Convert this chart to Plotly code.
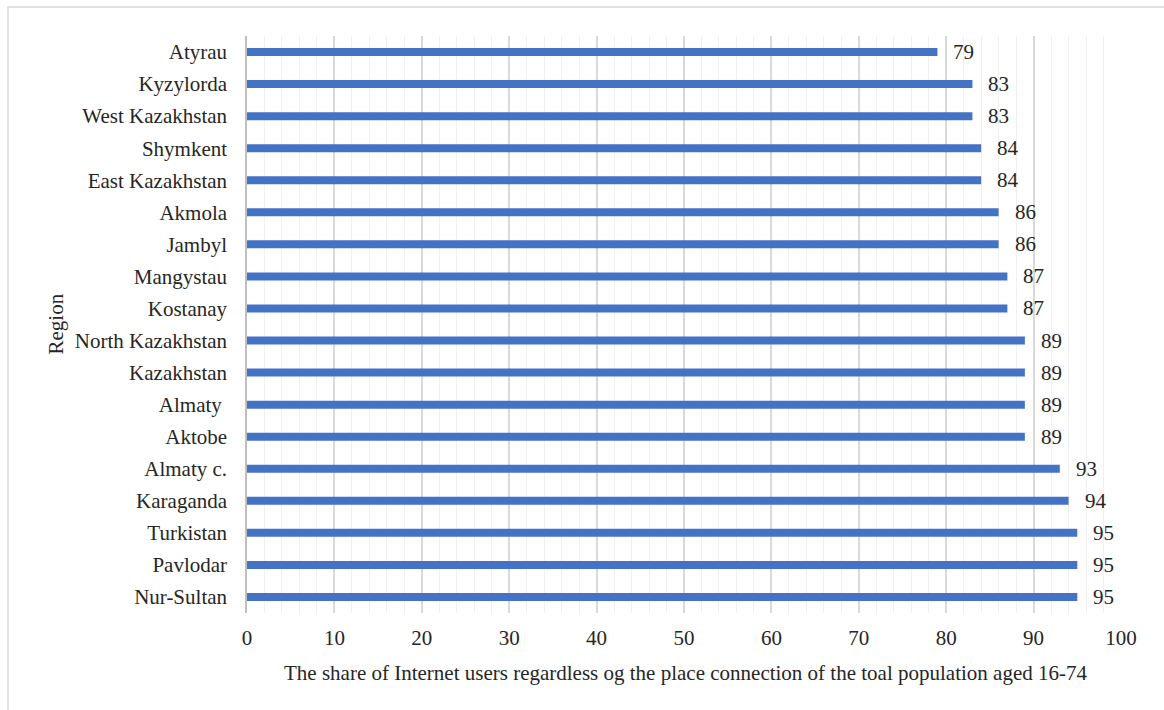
import plotly.graph_objects as go

regions = ["Atyrau", "Kyzylorda", "West Kazakhstan", "Shymkent", "East Kazakhstan",
           "Akmola", "Jambyl", "Mangystau", "Kostanay", "North Kazakhstan",
           "Kazakhstan", "Almaty ", "Aktobe", "Almaty c.", "Karaganda",
           "Turkistan", "Pavlodar", "Nur-Sultan"]
shares = [79, 83, 83, 84, 84, 86, 86, 87, 87, 89, 89, 89, 89, 93, 94, 95, 95, 95]

x_ticks = list(range(0, 101, 10))

FONT = "Liberation Serif"
FS = 21
W, H = 1164, 710
ML, MR, MT, MB = 247, 43, 36, 97
PW, PH = W - ML - MR, H - MT - MB

fig = go.Figure()
fig.add_trace(go.Bar(
    x=shares, y=regions, orientation="h",
    marker=dict(color="#4472C4", line=dict(width=0)),
    hoverinfo="x+y",
))

for r, v in zip(regions, shares):
    fig.add_annotation(x=v, y=r, text=str(v), showarrow=False,
                       xanchor="left", xshift=14,
                       font=dict(family=FONT, size=FS, color="#262626"))

# axis titles
fig.add_annotation(xref="paper", yref="paper", x=(55 - ML) / PW, y=0.5,
                   text="Region", textangle=-90, showarrow=False,
                   xanchor="center", yanchor="middle",
                   font=dict(family=FONT, size=FS, color="#262626"))
fig.add_annotation(xref="paper", yref="paper", x=(685 - ML) / PW, y=(H - MB - 673) / PH,
                   text="The share of Internet users regardless og the place connection of the toal population aged 16-74",
                   showarrow=False, xanchor="center", yanchor="middle",
                   font=dict(family=FONT, size=FS, color="#262626"))

# outer border
fig.add_shape(type="rect", xref="paper", yref="paper",
              x0=(8 - ML) / PW, x1=1.2, y0=-0.3, y1=(H - MB - 7) / PH,
              line=dict(color="#d9d9d9", width=1.5), fillcolor="rgba(0,0,0,0)",
              layer="below")

fig.update_layout(
    width=W, height=H,
    margin=dict(l=ML, r=MR, t=MT, b=MB),
    paper_bgcolor="white", plot_bgcolor="white",
    bargap=0.75,
    showlegend=False,
    font=dict(family=FONT, size=FS, color="#262626"),
)
fig.update_xaxes(
    range=[0, 100], tickvals=x_ticks, showgrid=True, gridcolor="#d9d9d9", gridwidth=1.5,
    minor=dict(tickvals=list(range(0, 101, 2)), showgrid=True, gridcolor="#f0f0f0", gridwidth=1),
    zeroline=False, showline=False, ticks="outside", ticklen=6, tickcolor="rgba(0,0,0,0)",
    tickfont=dict(family=FONT, size=FS),
)
fig.update_yaxes(
    autorange="reversed", showgrid=False, showline=True, linecolor="#bfbfbf", linewidth=1.5,
    ticks="outside", ticklen=14, tickcolor="rgba(0,0,0,0)",
    tickfont=dict(family=FONT, size=FS),
)

fig.write_html("out.html")
